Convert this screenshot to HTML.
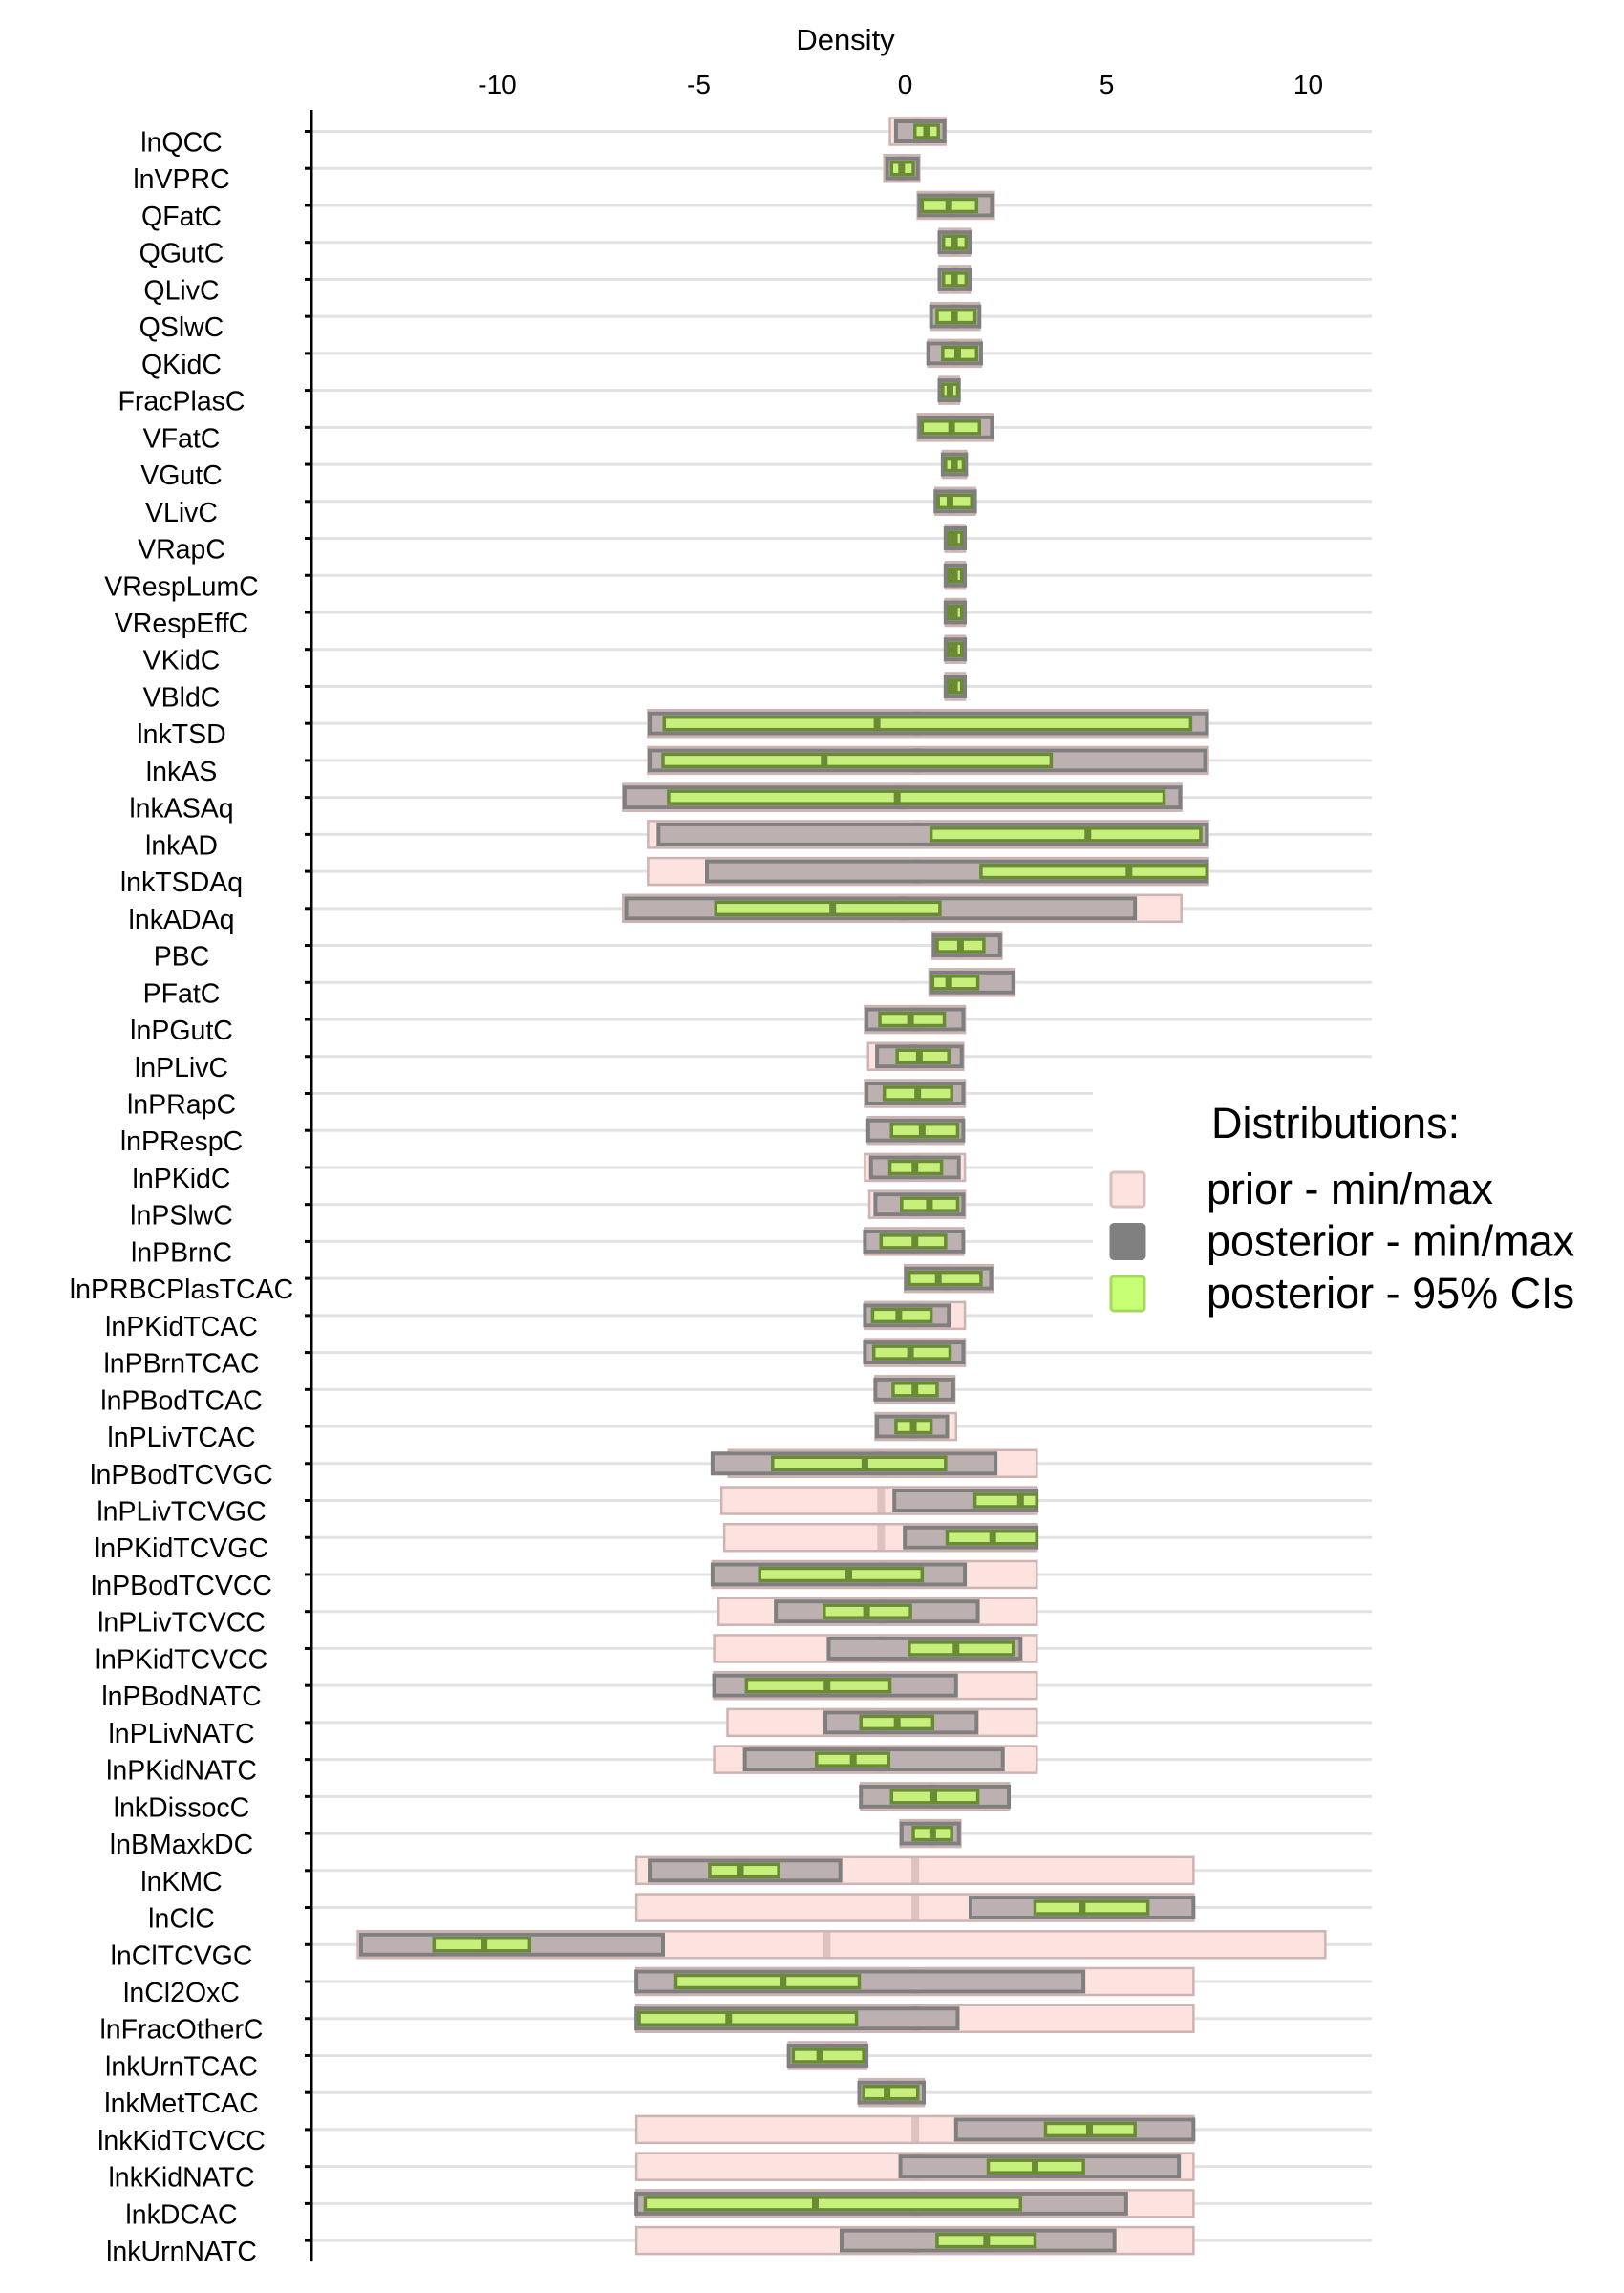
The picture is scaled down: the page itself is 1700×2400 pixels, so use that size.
<!DOCTYPE html>
<html><head><meta charset="utf-8"><style>
html,body{margin:0;padding:0;background:#fff;}
svg{display:block;font-family:"Liberation Sans",sans-serif;}
</style></head><body>
<svg id="chart" width="1700" height="2400" viewBox="0 0 1700 2400" xmlns="http://www.w3.org/2000/svg">
<g id="grid"></g>
<g id="marks"></g>
<g id="axes"></g>
<g id="legend"></g>
</svg>
<script>
const labels = ["lnQCC","lnVPRC","QFatC","QGutC","QLivC","QSlwC","QKidC","FracPlasC","VFatC","VGutC","VLivC","VRapC","VRespLumC","VRespEffC","VKidC","VBldC","lnkTSD","lnkAS","lnkASAq","lnkAD","lnkTSDAq","lnkADAq","PBC","PFatC","lnPGutC","lnPLivC","lnPRapC","lnPRespC","lnPKidC","lnPSlwC","lnPBrnC","lnPRBCPlasTCAC","lnPKidTCAC","lnPBrnTCAC","lnPBodTCAC","lnPLivTCAC","lnPBodTCVGC","lnPLivTCVGC","lnPKidTCVGC","lnPBodTCVCC","lnPLivTCVCC","lnPKidTCVCC","lnPBodNATC","lnPLivNATC","lnPKidNATC","lnkDissocC","lnBMaxkDC","lnKMC","lnClC","lnClTCVGC","lnCl2OxC","lnFracOtherC","lnkUrnTCAC","lnkMetTCAC","lnkKidTCVCC","lnkKidNATC","lnkDCAC","lnkUrnNATC"];
const priorMin = [-0.33,-0.47,0.36,0.9,0.9,0.69,0.62,0.9,0.36,0.98,0.8,1.05,1.05,1.05,1.05,1.05,-6.33,-6.33,-6.95,-6.33,-6.33,-6.95,0.73,0.65,-0.95,-0.87,-0.95,-0.87,-0.95,-0.84,-0.95,0.04,-0.95,-0.95,-0.69,-0.69,-4.33,-4.51,-4.44,-4.73,-4.58,-4.69,-4.69,-4.36,-4.69,-1.05,-0.07,-6.62,-6.62,-13.53,-6.62,-6.62,-2.84,-1.09,-6.62,-6.62,-6.62,-6.62];
const priorMax = [1.05,0.4,2.25,1.65,1.65,1.89,1.93,1.38,2.22,1.56,1.78,1.53,1.53,1.53,1.53,1.53,7.56,7.56,6.9,7.56,7.56,6.9,2.44,2.76,1.53,1.49,1.53,1.49,1.53,1.53,1.49,2.22,1.53,1.53,1.27,1.31,3.31,3.31,3.31,3.31,3.31,3.31,3.31,3.31,3.31,2.62,1.42,7.2,7.2,10.47,7.2,7.2,-0.91,0.51,7.2,7.2,7.2,7.2];
const priorMed = [0.36,-0.04,1.2,1.27,1.27,1.27,1.27,1.16,1.2,1.27,1.2,1.27,1.27,1.27,1.27,1.27,0.36,0.36,0.0,0.36,0.36,0.0,1.42,1.42,0.29,0.29,0.29,0.29,0.29,0.29,0.29,1.1,0.29,0.29,0.29,0.29,-0.55,-0.55,-0.55,-0.55,-0.55,-0.55,-0.55,-0.55,-0.55,0.76,0.68,0.3,0.3,-1.9,0.3,0.3,-1.87,-0.29,0.3,0.3,0.3,0.3];
const postMin = [-0.18,-0.4,0.4,0.9,0.9,0.69,0.62,0.9,0.4,0.98,0.8,1.05,1.05,1.05,1.05,1.05,-6.29,-6.29,-6.91,-6.07,-4.87,-6.87,0.76,0.69,-0.91,-0.65,-0.91,-0.87,-0.8,-0.69,-0.95,0.07,-0.95,-0.95,-0.69,-0.65,-4.73,-0.22,0.04,-4.73,-3.16,-1.85,-4.69,-1.93,-3.93,-1.05,-0.04,-6.29,1.67,-13.45,-6.62,-6.62,-2.84,-1.09,1.31,-0.07,-6.62,-1.53];
const postMax = [1.02,0.36,2.2,1.65,1.65,1.89,1.93,1.38,2.2,1.56,1.78,1.53,1.53,1.53,1.53,1.53,7.53,7.49,6.87,7.53,7.53,5.75,2.4,2.73,1.49,1.45,1.49,1.49,1.38,1.49,1.49,2.18,1.13,1.49,1.24,1.09,2.29,3.31,3.31,1.53,1.85,2.91,1.31,1.82,2.47,2.62,1.38,-1.56,7.2,-5.96,4.47,1.35,-0.91,0.51,7.2,6.84,5.53,5.24];
const ciLow = [0.29,-0.29,0.47,1.0,1.0,0.84,0.98,0.98,0.47,1.05,0.87,1.13,1.13,1.13,1.13,1.13,-5.93,-5.96,-5.82,0.69,1.93,-4.65,0.84,0.73,-0.58,-0.15,-0.47,-0.29,-0.33,-0.04,-0.55,0.15,-0.76,-0.73,-0.25,-0.18,-3.24,1.78,1.09,-3.56,-1.96,0.15,-3.89,-1.05,-2.15,-0.29,0.25,-4.8,3.27,-11.64,-5.64,-6.55,-2.73,-0.98,3.53,2.11,-6.4,0.84];
const ciHigh = [0.87,0.25,1.82,1.56,1.56,1.78,1.82,1.35,1.89,1.49,1.7,1.45,1.45,1.45,1.45,1.45,7.13,3.67,6.47,7.38,7.53,0.91,2.0,1.85,1.02,1.13,1.2,1.35,0.95,1.35,1.05,1.93,0.69,1.16,0.84,0.69,1.05,3.31,3.31,0.47,0.18,2.73,-0.33,0.73,-0.36,1.85,1.2,-3.09,6.07,-9.27,-1.09,-1.16,-0.98,0.36,5.75,4.47,2.91,3.27];
const median = [0.58,-0.04,1.13,1.27,1.27,1.27,1.35,1.16,1.2,1.27,1.16,1.27,1.27,1.27,1.27,1.27,-0.65,-1.96,-0.15,4.58,5.6,-1.75,1.42,1.13,0.18,0.4,0.36,0.47,0.29,0.65,0.29,0.87,-0.11,0.18,0.29,0.25,-0.95,2.91,2.22,-1.35,-0.91,1.31,-1.89,-0.15,-1.24,0.76,0.73,-4.04,4.44,-10.4,-2.98,-4.33,-2.07,-0.4,4.62,3.27,-2.18,2.07];
const tickValues = [-10,-5,0,5,10];
const tickLabels = ["-10","-5","0","5","10"];

const NS = "http://www.w3.org/2000/svg";
const X0 = 945.5, UNIT = 42.2;
function xs(v){ return X0 + v*UNIT; }
const Y0 = 137.5, PITCH = 38.73;
function ys(i){ return Y0 + i*PITCH; }
function mk(tag, attrs, parent){
  const e = document.createElementNS(NS, tag);
  for (const k in attrs) e.setAttribute(k, attrs[k]);
  parent.appendChild(e);
  return e;
}
const grid = document.getElementById('grid');
const marks = document.getElementById('marks');
const axes = document.getElementById('axes');
const legend = document.getElementById('legend');

labels.forEach((lab, i) => {
  const y = ys(i);
  const gl = mk('line', {x1:327, x2:1436, y1:y, y2:y, stroke:'#e2e2e2', 'stroke-width':3}, grid);
  
  
  const tk = mk('line', {x1:319, x2:326, y1:y, y2:y, stroke:'#000', 'stroke-width':3}, axes);
  
  
  const t = mk('text', {x:190, y:y+21, 'text-anchor':'middle', 'font-size':28.5, fill:'#000'}, axes);
  t.textContent = lab;
  
  
});
const ax = mk('line', {x1:326, x2:326, y1:115, y2:ys(labels.length-1)+22, stroke:'#000', 'stroke-width':3}, axes);



tickValues.forEach((v, i) => {
  const t = mk('text', {x:xs(v) - (v<0?5:0) + 2, y:98, 'text-anchor':'middle', 'font-size':28, fill:'#000'}, axes);
  t.textContent = tickLabels[i];
  
  
});
const title = mk('text', {x:885, y:52, 'text-anchor':'middle', 'font-size':31, fill:'#000'}, axes);
title.textContent = 'Density';



const lbg = mk('rect', {x:1144, y:1140, width:556, height:256, fill:'#fff'}, grid.parentNode);
grid.parentNode.insertBefore(lbg, marks);



labels.forEach((lab, i) => {
  const y = ys(i);
  const g = mk('g', {}, marks);
  
  
  const pr = mk('rect', {x:xs(priorMin[i]), y:y-14, width:xs(priorMax[i])-xs(priorMin[i]), height:28, fill:'#fde3df', stroke:'#cdb3b2', 'stroke-width':2.5}, g);
  
  
  const pm = mk('rect', {x:xs(priorMed[i])-4, y:y-13, width:8, height:26, fill:'#cdb3b2', opacity:0.7}, g);
  
  
  const po = mk('rect', {x:xs(postMin[i]), y:y-10.5, width:xs(postMax[i])-xs(postMin[i]), height:21, fill:'#bdb0b0', stroke:'#7f7f7f', 'stroke-width':4}, g);
  
  
  const ci = mk('rect', {x:xs(ciLow[i]), y:y-6.5, width:xs(ciHigh[i])-xs(ciLow[i]), height:13, fill:'#c6ef7c', stroke:'#6b8a35', 'stroke-width':3.5}, g);
  
  
  const md = mk('rect', {x:xs(median[i])-3.5, y:y-8, width:7, height:16, fill:'#6b8a35'}, g);
  
  
});

const lt = mk('text', {x:1268, y:1191, 'font-size':45, fill:'#000'}, legend);
lt.textContent = 'Distributions:';


const entries = [
  ['prior - min/max', '#fde3df', '#d6bebd', 'legend-entry-prior'],
  ['posterior - min/max', '#808080', '#808080', 'legend-entry-posterior'],
  ['posterior - 95% CIs', '#c6ff74', '#a6d85c', 'legend-entry-ci']
];
entries.forEach((e, k) => {
  const cy = 1245 + k*54.5;
  const sq = mk('rect', {x:1163, y:cy-18, width:35, height:36, rx:3, fill:e[1], stroke:e[2], 'stroke-width':3}, legend);
  
  
  const tx = mk('text', {x:1263, y:cy+15, 'font-size':45, fill:'#000'}, legend);
  tx.textContent = e[0];
  
  
});
</script>
</body></html>
